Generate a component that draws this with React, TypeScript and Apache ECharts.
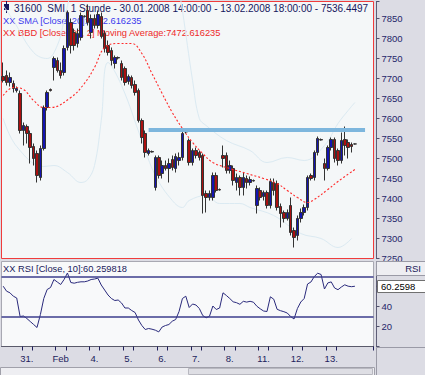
import React, { useEffect, useRef } from 'react';
import * as echarts from 'echarts';

// ---- time axis ----
const dayDates = ['30.01', '31.01', '01.02', '04.02', '05.02', '06.02', '07.02', '08.02', '11.02', '12.02', '13.02'];
const dayLabels = ['30.', '31.', 'Feb', '4.', '5.', '6.', '7.', '8.', '11.', '12.', '13.'];
const hours = ['09:00', '10:00', '11:00', '12:00', '13:00', '14:00', '15:00', '16:00', '17:00', '18:00'];
const emptySlots = 5;

// ---- SMI hourly candles (o, c, h, l) ----
const opens = [
  7705, 7707.5, 7690, 7687.5, 7670,
  7662.5, 7570, 7580, 7562.5, 7530, 7512.5, 7452.5, 7525, 7627.5, 7672.5,
  7727.5, 7745, 7720, 7715, 7777.5, 7840, 7815, 7787.5, 7802.5, 7855,
  7870, 7815, 7850, 7832.5, 7855, 7812.5, 7782.5, 7770, 7737.5, 7752.5,
  7737.5, 7725, 7692.5, 7702.5, 7685, 7670, 7595, 7562.5, 7512.5, 7517.5,
  7427.5, 7502.5, 7462.5, 7482.5, 7475, 7497.5, 7475, 7495, 7502.5, 7567.5,
  7545, 7490, 7520, 7515, 7507.5, 7412.5, 7402.5, 7402.5, 7457.5, 7422.5,
  7507.5, 7507.5, 7470, 7475, 7440, 7452.5, 7427.5, 7450, 7440, 7445,
  7382.5, 7420, 7405, 7415, 7382.5, 7440, 7437.5, 7380, 7365, 7350,
  7382.5, 7320, 7307.5, 7350, 7365, 7377.5, 7457.5, 7452.5, 7515, 7547.5,
  7487.5, 7475, 7527.5, 7547.5, 7520, 7495, 7547.5, 7540, 7535, 7536.25,
];
const closes = [
  7695, 7690, 7702.5, 7675, 7675,
  7570, 7582.5, 7562.5, 7527.5, 7500, 7457.5, 7525, 7627.5, 7665, 7670,
  7750, 7720, 7707.5, 7775, 7865, 7782.5, 7782.5, 7812.5, 7857.5, 7856.25,
  7840, 7850, 7832.5, 7860, 7805, 7775, 7765, 7745, 7752.5, 7751.25,
  7702.5, 7690, 7705, 7682.5, 7665, 7595, 7552.5, 7515, 7520, 7516.25,
  7502.5, 7457.5, 7482.5, 7475, 7487.5, 7477.5, 7505, 7502.5, 7562.5, 7566.25,
  7490, 7520, 7507.5, 7502.5, 7407.5, 7402.5, 7412.5, 7457.5, 7420, 7421.25,
  7500, 7470, 7482.5, 7445, 7452.5, 7427.5, 7452.5, 7440, 7447.5, 7443.75,
  7425, 7402.5, 7415, 7382.5, 7442.5, 7420, 7377.5, 7362.5, 7350, 7365,
  7315, 7302.5, 7350, 7365, 7377.5, 7452.5, 7450, 7515, 7550, 7546.25,
  7475, 7527.5, 7547.5, 7500, 7495, 7545, 7532.5, 7527.5, 7530, 7536.4497,
];
const highs = [
  7740, 7720, 7715, 7695, 7680,
  7670, 7590, 7585, 7570, 7537.5, 7520, 7532.5, 7632.5, 7670, 7675,
  7755, 7752.5, 7740, 7782.5, 7870, 7850, 7825, 7825, 7865, 7857.5,
  7885, 7860, 7860, 7870, 7865, 7820, 7795, 7777.5, 7757.5, 7755,
  7745, 7730, 7710, 7707.5, 7695, 7675, 7600, 7570, 7525, 7520,
  7507.5, 7507.5, 7495, 7495, 7500, 7507.5, 7512.5, 7515, 7570, 7570,
  7550, 7525, 7527.5, 7520, 7512.5, 7420, 7420, 7465, 7465, 7425,
  7532.5, 7515, 7495, 7482.5, 7462.5, 7457.5, 7465, 7457.5, 7455, 7447.5,
  7432.5, 7427.5, 7420, 7420, 7450, 7450, 7445, 7387.5, 7370, 7372.5,
  7402.5, 7327.5, 7357.5, 7375, 7385, 7457.5, 7462.5, 7520, 7555, 7550,
  7500, 7532.5, 7552.5, 7552.5, 7525, 7565, 7580, 7547.5, 7540, 7537.5,
];
const lows = [
  7690, 7682.5, 7680, 7665, 7665,
  7562.5, 7532.5, 7537.5, 7487.5, 7482.5, 7440, 7445, 7520, 7620, 7667.5,
  7695, 7715, 7700, 7707.5, 7770, 7762.5, 7770, 7777.5, 7795, 7852.5,
  7832.5, 7800, 7825, 7825, 7800, 7765, 7757.5, 7732.5, 7725, 7747.5,
  7695, 7682.5, 7685, 7675, 7657.5, 7590, 7537.5, 7502.5, 7507.5, 7515,
  7420, 7450, 7450, 7470, 7440, 7470, 7465, 7482.5, 7495, 7562.5,
  7482.5, 7482.5, 7500, 7495, 7362.5, 7365, 7395, 7395, 7415, 7420,
  7477.5, 7462.5, 7462.5, 7432.5, 7420, 7407.5, 7407.5, 7425, 7432.5, 7442.5,
  7362.5, 7395, 7395, 7375, 7375, 7407.5, 7370, 7327.5, 7340, 7345,
  7307.5, 7277.5, 7295, 7340, 7357.5, 7370, 7445, 7445, 7507.5, 7545,
  7445, 7470, 7520, 7490, 7482.5, 7487.5, 7507.5, 7500, 7515, 7535,
];

// ---- BBD moving average (red dotted), read at bar indices ----
const maIdx = [0, 3, 6, 9, 12, 14, 20, 24, 27, 30, 34, 38, 41, 44, 47, 50, 53, 56, 59, 62, 67, 72, 77, 81, 84, 87, 90, 92, 96, 99, 104];
const maVal = [7657.5, 7677.5, 7672.5, 7645, 7627.5, 7627.5, 7652.5, 7687.5, 7727.5, 7777.5, 7787.5, 7787.5, 7762.5, 7712.5, 7662.5, 7615, 7575, 7540, 7512.5, 7490, 7475, 7462.5, 7450, 7437.5, 7420, 7402.5, 7390, 7397.5, 7422.5, 7442.5, 7472.616235];

// ---- faint Bollinger bands ----
const upperAIdx = [0, 3, 9, 13, 16, 18, 20];
const upperAVal = [7882.5, 7845, 7765, 7750, 7782.5, 7845, 7920];
const upperBIdx = [52, 53, 56, 58, 60, 66, 73, 78, 84, 89, 95, 99, 102, 104];
const upperBVal = [7920, 7870, 7695, 7600, 7582.5, 7545, 7520, 7490, 7502.5, 7495, 7532.5, 7587.5, 7620, 7640];
const lowerIdx = [0, 4, 12, 15, 19, 23, 25, 27, 29, 31, 35, 41, 45, 50, 53, 55, 60, 64, 70, 73, 80, 88, 94, 99, 103];
const lowerVal = [7600, 7530, 7480, 7482.5, 7465, 7440, 7447.5, 7482.5, 7595, 7740, 7682.5, 7545, 7457.5, 7395, 7377.5, 7395, 7407.5, 7387.5, 7387.5, 7377.5, 7357.5, 7312.5, 7300, 7277.5, 7300];

// ---- resistance line ----
const resistanceLevel = 7572;
const resistanceStart = 43.4;
const resistanceEnd = 107;

// ---- RSI (10) ----
const rsi = [
  60.3, 55.3, 53.7, 50.3, 48.5,
  30, 30.5, 28, 25, 22, 19, 32, 48, 57, 59,
  67, 64.5, 62, 67, 73.5, 64, 63.3, 64.2, 64.7, 64.7,
  65.5, 67, 67.5, 68.3, 61.5, 56.5, 51.5, 48, 46, 46.5,
  43.5, 38.5, 38.5, 36, 34, 26.5, 21, 17, 18, 17.3,
  16.3, 14.6, 19.5, 21, 22, 25.3, 27, 35, 48, 50.3,
  39, 42.5, 41.5, 38, 31, 28.7, 30.2, 40.5, 37, 38.5,
  53.7, 51, 48, 44.7, 43.8, 42.2, 45.2, 44.4, 45.2, 44.3,
  40.3, 37.7, 35.5, 35, 49.7, 47.3, 37.2, 35.8, 34.8, 33.5,
  30, 27.5, 38, 44.5, 48, 62.5, 64.5, 70, 73.3, 72,
  57.5, 63.6, 64.6, 58.5, 56.8, 59.5, 61.7, 60.3, 59.8, 60.259818,
];
const rsiBands = [70, 30];
const priceTicks = { min: 7250, max: 7892.5, interval: 50 };
const rsiTicks = { min: 0, max: 85, interval: 20, shown: [20, 40] };

const lastPrice = 7536.4497;
const lastRsi = 60.259818;
const maLast = 7472.616235;

const FONT = '"Liberation Sans", Arial, Helvetica, sans-serif';

// categories
const categories: string[] = [];
const labelAt: Record<number, string> = {};
const tickAt = new Set<number>();
dayDates.forEach((d, di) => {
  const start = categories.length;
  const hrs = di === 0 ? hours.slice(5) : hours;
  hrs.forEach((h) => categories.push(`${d} ${h}`));
  if (di > 0) {
    labelAt[start + 2] = dayLabels[di];
    tickAt.add(start + 1);
    tickAt.add(start + 4);
  }
});
for (let k = 0; k < emptySlots; k++) categories.push(`pad${k}`);

const pairs = (idx: number[], val: number[]) => idx.map((x, k) => [x, val[k]]);

const valueLabel = (text: string, padRight: number) => ({
  show: true, position: 'end', distance: 3, formatter: () => text,
  backgroundColor: '#ffffff', borderColor: '#707070', borderWidth: 1, padding: [1, padRight, 0, 2],
  color: '#000000', fontSize: 9.5, fontFamily: FONT,
});

const staticGraphic = [
  { type: 'line', z: 1, shape: { x1: 6.5, y1: 1, x2: 6.5, y2: 13 }, style: { stroke: '#16165e', lineWidth: 1 } },
  { type: 'rect', z: 1, shape: { x: 4, y: 4, width: 5, height: 6 }, style: { fill: '#16165e' } },
  {
    type: 'text', z: 1, x: 14, y: 8,
    style: { text: `31600  SMI, 1 Stunde - 30.01.2008 14:00:00 - 13.02.2008 18:00:00 - ${lastPrice.toFixed(4)}`, fill: '#16165e', fontSize: 10, fontFamily: FONT, verticalAlign: 'middle' },
  },
  {
    type: 'text', z: 1, x: 3, y: 21,
    style: { text: `XX SMA [Close, 20]:${maLast.toFixed(6)}`, fill: '#3a3aee', fontSize: 9.3, fontFamily: FONT, verticalAlign: 'middle' },
  },
  {
    type: 'text', z: 1, x: 3, y: 33,
    style: { text: `XX BBD [Close, 20, 2] Moving Average:${maLast.toFixed(6)}`, fill: '#ee2a2a', fontSize: 9.3, fontFamily: FONT, verticalAlign: 'middle' },
  },
  {
    type: 'text', z: 1, x: 3, y: 269,
    style: { text: `XX RSI [Close, 10]:${lastRsi.toFixed(6)}`, fill: '#20205a', fontSize: 9.3, fontFamily: FONT, verticalAlign: 'middle' },
  },
  { type: 'rect', z: 100, shape: { x: 376.5, y: 261.5, width: 49, height: 14 }, style: { fill: '#eeeef2', stroke: '#9a9aa6', lineWidth: 1 } },
  { type: 'text', z: 101, x: 421, y: 268.5, style: { text: 'RSI', fill: '#20205a', fontSize: 9.5, fontFamily: FONT, align: 'right', verticalAlign: 'middle' } },
  { type: 'rect', z: 100, shape: { x: 376.5, y: 347.5, width: 49, height: 28 }, style: { fill: '#dcdce4', stroke: '#9a9aa6', lineWidth: 1 } },
  { type: 'rect', z: 100, shape: { x: 0.5, y: 367.5, width: 374, height: 8 }, style: { fill: '#eeeef2', stroke: '#a0a0aa', lineWidth: 1 } },
  { type: 'rect', z: 101, shape: { x: 188.5, y: 368.5, width: 184, height: 6 }, style: { fill: '#dedee4', stroke: '#b8b8c0', lineWidth: 1 } },
];

export default function App() {
  const ref = useRef<HTMLDivElement>(null);
  useEffect(() => {
    document.body.style.margin = '0';
    if (!ref.current) return;
    const chart = echarts.init(ref.current, undefined, { renderer: 'svg' });
    const candleData = opens.map((o, i) => [o, closes[i], lows[i], highs[i]]);
    const bandStyle = { color: '#dbeaf2', width: 1 };
    const option: any = {
      animation: false,
      backgroundColor: '#dcdce4',
      textStyle: { fontFamily: FONT },
      grid: [
        { left: 1.5, top: 1.5, width: 372, height: 257, show: true, backgroundColor: '#f4f7f8', borderColor: '#f03c3c', borderWidth: 1 },
        { left: 1.5, top: 261.5, width: 372, height: 85, show: true, backgroundColor: '#f8f9fa', borderColor: '#a8a8b2', borderWidth: 1 },
      ],
      xAxis: [
        { type: 'category', gridIndex: 0, data: categories, show: false, boundaryGap: true },
        {
          type: 'category', gridIndex: 1, data: categories, boundaryGap: true,
          axisLine: { show: true, lineStyle: { color: '#5a5a6a' } },
          axisTick: { show: true, interval: (i: number) => tickAt.has(i), length: 4, lineStyle: { color: '#20205a' } },
          axisLabel: {
            interval: (i: number) => labelAt[i] !== undefined,
            formatter: (_v: string, i: number) => labelAt[i] ?? '',
            color: '#1c1c5c', fontSize: 9.5, margin: 7, fontFamily: FONT,
          },
          splitLine: { show: false },
        },
      ],
      yAxis: [
        {
          type: 'value', gridIndex: 0, position: 'right', offset: 3,
          min: priceTicks.min, max: priceTicks.max, interval: priceTicks.interval,
          axisLine: { show: true, lineStyle: { color: '#50506a', type: 'dotted' } },
          axisTick: { show: true, length: 3, lineStyle: { color: '#50506a' } },
          axisLabel: {
            formatter: (v: number) => (v % 50 === 0 ? String(v) : ''),
            color: '#26266a', fontSize: 9.5, margin: 5, fontFamily: FONT,
          },
          splitLine: { show: false },
        },
        {
          type: 'value', gridIndex: 1, position: 'right', offset: 3,
          min: rsiTicks.min, max: rsiTicks.max, interval: rsiTicks.interval,
          axisLine: { show: true, lineStyle: { color: '#50506a', type: 'dotted' } },
          axisTick: { show: true, length: 3, lineStyle: { color: '#50506a' } },
          axisLabel: {
            formatter: (v: number) => (rsiTicks.shown.includes(v) ? String(v) : ''),
            color: '#26266a', fontSize: 9.5, margin: 5, fontFamily: FONT,
          },
          splitLine: { show: false },
        },
      ],
      series: [
        {
          type: 'line', xAxisIndex: 0, yAxisIndex: 0, data: pairs(upperAIdx, upperAVal),
          smooth: 0.4, symbol: 'none', lineStyle: bandStyle, silent: true, z: 1,
        },
        {
          type: 'line', xAxisIndex: 0, yAxisIndex: 0, data: pairs(upperBIdx, upperBVal),
          smooth: 0.4, symbol: 'none', lineStyle: bandStyle, silent: true, z: 1,
        },
        {
          type: 'line', xAxisIndex: 0, yAxisIndex: 0, data: pairs(lowerIdx, lowerVal),
          smooth: 0.4, symbol: 'none', lineStyle: bandStyle, silent: true, z: 1,
        },
        {
          type: 'candlestick', xAxisIndex: 0, yAxisIndex: 0, data: candleData, barWidth: 3,
          itemStyle: { color: '#1414b0', color0: '#aa1010', borderColor: '#333333', borderColor0: '#333333', borderWidth: 1 },
          markLine: {
            silent: true, symbol: ['none', 'none'], animation: false,
            label: { show: false },
            data: [
              [
                { coord: [resistanceStart, resistanceLevel], lineStyle: { color: '#7db6dd', width: 4, type: 'solid', opacity: 1 } },
                { coord: [resistanceEnd, resistanceLevel] },
              ],
              { yAxis: lastPrice, lineStyle: { opacity: 0 }, label: valueLabel(lastPrice.toFixed(4), 4) },
            ],
          },
        },
        {
          type: 'line', xAxisIndex: 0, yAxisIndex: 0, data: pairs(maIdx, maVal),
          smooth: 0.4, symbol: 'none', lineStyle: { color: '#ff2a2a', width: 1.1, type: [2, 2] }, silent: true, z: 3,
        },
        {
          type: 'line', xAxisIndex: 1, yAxisIndex: 1, data: rsi, symbol: 'none',
          lineStyle: { color: '#2a2a7c', width: 1 }, silent: true,
          markLine: {
            silent: true, symbol: ['none', 'none'], animation: false,
            label: { show: false },
            data: rsiBands.map((b) => ({ yAxis: b, lineStyle: { color: '#3c3c8c', width: 1.5, type: 'solid' } })),
          },
        },
      ],
      graphic: staticGraphic,
    };
    chart.setOption(option);
    // RSI current-value box, placed through the RSI axis scale
    const yRsi = chart.convertToPixel({ yAxisIndex: 1 }, lastRsi) as number;
    chart.setOption({
      graphic: [
        ...staticGraphic,
        { type: 'line', z: 100, shape: { x1: 376.5, y1: yRsi, x2: 379.5, y2: yRsi }, style: { stroke: '#50506a', lineWidth: 1 } },
        { type: 'rect', z: 100, shape: { x: 377.5, y: Math.round(yRsi) - 5.5, width: 48, height: 12 }, style: { fill: '#ffffff', stroke: '#707070', lineWidth: 1 } },
        { type: 'text', z: 101, x: 381, y: Math.round(yRsi) + 0.5, style: { text: lastRsi.toFixed(4), fill: '#000000', fontSize: 9.5, fontFamily: FONT, verticalAlign: 'middle' } },
      ],
    });
    return () => chart.dispose();
  }, []);
  return <div ref={ref} style={{ width: 425, height: 375 }} />;
}
